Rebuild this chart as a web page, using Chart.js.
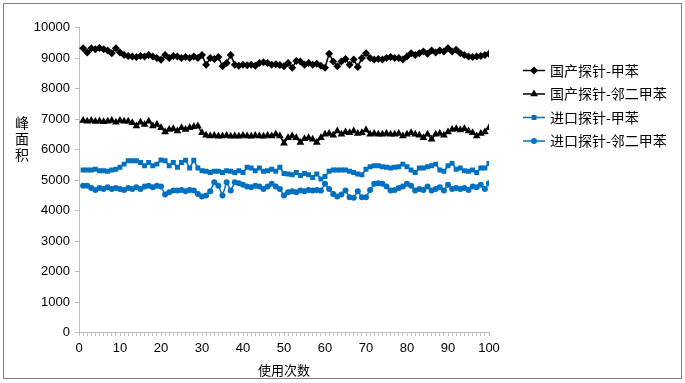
<!DOCTYPE html>
<html>
<head>
<meta charset="utf-8">
<script src="https://cdn.jsdelivr.net/npm/chart.js@4.4.1/dist/chart.umd.min.js"></script>
<style>
  body { margin: 0; background: #fff; }
  #wrap { width: 685px; height: 383px; }
</style>
</head>
<body>
<div id="wrap"><canvas id="chart" width="685" height="383"></canvas></div>
<script>
// series labels
const seriesNames = ['国产探针-甲苯', '国产探针-邻二甲苯', '进口探针-甲苯', '进口探针-邻二甲苯'];

// run number 1..100
const runs = Array.from({ length: 100 }, (_, i) => i + 1);

// peak area values
const domToluene = [
  9320, 9180, 9320, 9290, 9330, 9290, 9250, 9160, 9320, 9180,
  9100, 9070, 9050, 9030, 9070, 9050, 9100, 9050, 9000, 8940,
  9100, 9000, 9070, 9050, 9000, 9030, 9000, 9050, 9000, 9100,
  8780, 9000, 8970, 9030, 8730, 8840, 9100, 8780, 8750, 8780,
  8760, 8780, 8750, 8840, 8860, 8840, 8780, 8800, 8775, 8730,
  8840, 8680, 8900, 8890, 8780, 8840, 8780, 8810, 8750, 8680,
  9140, 8890, 8730, 8890, 8970, 8780, 8950, 8710, 9000, 9160,
  9000, 8950, 8970, 8950, 9000, 9030, 9000, 9000, 8950, 9050,
  9160, 9100, 9160, 9210, 9140, 9250, 9180, 9250, 9210, 9320,
  9210, 9270, 9160, 9100, 9050, 9030, 9050, 9070, 9100, 9140
];
const domXylene = [
  6950, 6930, 6950, 6920, 6940, 6910, 6930, 6950, 6900, 6950,
  6930, 6930, 6880, 6770, 6900, 6820, 6930, 6770, 6820, 6720,
  6580, 6660, 6680, 6610, 6720, 6660, 6720, 6750, 6770, 6550,
  6470, 6450, 6460, 6440, 6450, 6460, 6440, 6450, 6440, 6460,
  6450, 6440, 6460, 6450, 6440, 6460, 6450, 6500, 6450, 6210,
  6390, 6450, 6390, 6230, 6360, 6390, 6340, 6230, 6390, 6500,
  6530, 6470, 6610, 6500, 6580, 6550, 6610, 6530, 6550, 6640,
  6500, 6530, 6500, 6500, 6530, 6500, 6500, 6530, 6450, 6500,
  6550, 6500, 6470, 6390, 6500, 6340, 6500, 6530, 6470, 6580,
  6660, 6680, 6640, 6680, 6610, 6550, 6450, 6530, 6580, 6720
];
const impToluene = [
  5330, 5330, 5330, 5360, 5310, 5310, 5290, 5330, 5360, 5420,
  5525, 5635, 5635, 5635, 5580, 5470, 5580, 5470, 5525, 5660,
  5635, 5470, 5580, 5420, 5580, 5650, 5400, 5650, 5400, 5310,
  5290, 5250, 5290, 5290, 5250, 5310, 5290, 5250, 5310, 5250,
  5420, 5400, 5310, 5400, 5290, 5310, 5360, 5290, 5420, 5220,
  5200, 5180, 5250, 5150, 5220, 5180, 5090, 5200, 5040, 5120,
  5290, 5330, 5330, 5330, 5330, 5290, 5250, 5200, 5180, 5360,
  5440, 5470, 5470, 5440, 5420, 5400, 5420, 5440, 5525, 5440,
  5330, 5250, 5400, 5400, 5440, 5470, 5525, 5330, 5290, 5470,
  5550, 5360, 5400, 5310, 5290, 5330, 5250, 5400, 5400, 5550
];
const impXylene = [
  4820, 4820, 4745, 4680, 4745, 4712, 4768, 4712, 4745, 4712,
  4680, 4745, 4712, 4768, 4712, 4790, 4820, 4768, 4820, 4790,
  4530, 4600, 4660, 4660, 4680, 4640, 4680, 4660, 4550, 4465,
  4500, 4640, 4930, 4820, 4500, 4930, 4660, 4930, 4900, 4850,
  4790, 4768, 4820, 4790, 4712, 4790, 4880, 4790, 4712, 4500,
  4600, 4640, 4600, 4660, 4640, 4680, 4660, 4680, 4660, 4880,
  4712, 4550, 4465, 4530, 4660, 4443, 4420, 4640, 4443, 4443,
  4680, 4880, 4900, 4880, 4790, 4660, 4680, 4745, 4790, 4880,
  4820, 4660, 4712, 4680, 4790, 4660, 4712, 4768, 4660, 4850,
  4712, 4745, 4712, 4745, 4680, 4790, 4768, 4850, 4712, 4900
];

const xTitle = '使用次数';
const yTitle = ['峰', '面', '积'];

const FONT = "'Liberation Sans', Arial, sans-serif";
const CJK = "'Noto Sans CJK SC', sans-serif";
const BLACK = '#000000';
const BLUE = '#0070c0';
const AXIS = '#bfbfbf';

function toPoints(values) {
  return values.map((v, i) => ({ x: runs[i], y: v }));
}

const styles = [
  { color: BLACK, pointStyle: 'rectRot', radius: 4 },
  { color: BLACK, pointStyle: 'triangle', radius: 4.5 },
  { color: BLUE, pointStyle: 'rect', radius: 3.5 },
  { color: BLUE, pointStyle: 'circle', radius: 3 }
];
const allSeries = [domToluene, domXylene, impToluene, impXylene];

const datasets = allSeries.map((vals, k) => ({
  label: seriesNames[k],
  data: toPoints(vals),
  borderColor: styles[k].color,
  backgroundColor: styles[k].color,
  borderWidth: 1.5,
  pointStyle: styles[k].pointStyle,
  pointRadius: styles[k].radius,
  pointBorderWidth: 0,
  pointBackgroundColor: styles[k].color,
  tension: 0
}));

// frame, stacked y title and legend
const extras = {
  id: 'extras',
  afterDraw(chart) {
    const ctx = chart.ctx;
    ctx.save();
    ctx.strokeStyle = '#808080';
    ctx.lineWidth = 1;
    ctx.strokeRect(3.5, 3.5, 678, 375);

    ctx.fillStyle = '#000';
    ctx.font = '14px ' + CJK;
    ctx.textAlign = 'center';
    ctx.textBaseline = 'middle';
    yTitle.forEach((ch, i) => ctx.fillText(ch, 22, 123 + i * 16));

    ctx.font = '14px ' + CJK;
    ctx.textAlign = 'left';
    const rows = [70.5, 94, 117.5, 141];
    datasets.forEach((ds, k) => {
      const y = rows[k];
      ctx.strokeStyle = ds.borderColor;
      ctx.fillStyle = ds.borderColor;
      ctx.lineWidth = 1.5;
      ctx.beginPath();
      ctx.moveTo(523, y);
      ctx.lineTo(545, y);
      ctx.stroke();
      Chart.helpers.drawPoint(ctx, { pointStyle: ds.pointStyle, radius: ds.pointRadius, rotation: 0, borderWidth: 0 }, 534, y);
      ctx.fillStyle = '#000';
      ctx.fillText(ds.label, 550, y);
    });
    ctx.restore();
  }
};

new Chart(document.getElementById('chart'), {
  type: 'line',
  data: { datasets: datasets },
  options: {
    responsive: false,
    animation: false,
    layout: { padding: { left: 0, right: 196, top: 27.5, bottom: 5 } },
    plugins: {
      legend: { display: false },
      tooltip: { enabled: false }
    },
    scales: {
      x: {
        type: 'linear',
        min: 0,
        max: 100,
        grid: { drawOnChartArea: false, drawTicks: true, tickLength: 3, color: AXIS },
        border: { color: AXIS },
        ticks: {
          stepSize: 1,
          autoSkip: false,
          maxRotation: 0,
          padding: 5,
          color: '#000',
          font: { family: FONT, size: 13 },
          callback: v => (v % 10 === 0 ? String(v) : '')
        },
        title: {
          display: true,
          text: xTitle,
          color: '#000',
          font: { family: CJK, size: 13 },
          padding: { top: 1, bottom: 0 }
        }
      },
      y: {
        min: 0,
        max: 10000,
        afterFit: s => { s.width = 79; },
        grid: { drawOnChartArea: false, drawTicks: true, tickLength: 4, color: AXIS },
        border: { color: AXIS },
        ticks: {
          stepSize: 1000,
          padding: 5,
          color: '#000',
          font: { family: FONT, size: 13 },
          callback: v => String(v)
        }
      }
    }
  },
  plugins: [extras]
});
</script>
</body>
</html>
